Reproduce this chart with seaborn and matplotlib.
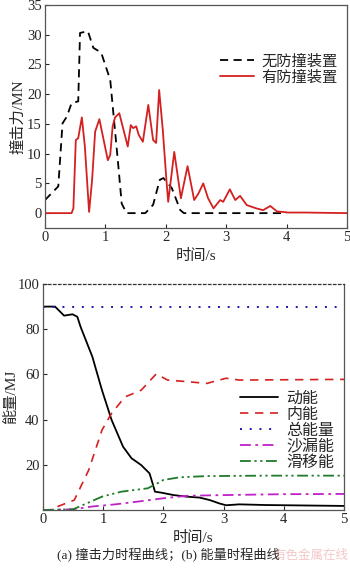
import numpy as np
import pandas as pd
import matplotlib
matplotlib.use('Agg')
import matplotlib.pyplot as plt
import seaborn as sns

# (a) 撞击力时程 - 无防撞装置
t_wu = [0, 0.22, 0.29, 0.36, 0.44, 0.55, 0.58, 0.71, 0.8, 0.93, 1.08, 1.13, 1.21, 1.27,
        1.35, 1.66, 1.79, 1.9, 1.96, 2.1, 2.24, 2.3, 4.0]
f_wu = [2.2, 4.5, 15.1, 16.2, 18.5, 18.8, 30.3, 30.6, 27.8, 27.0, 22.4, 17.0, 8.4, 1.6,
        0, 0, 1.4, 5.6, 5.9, 4.2, 0.5, 0, 0]

# (a) 撞击力时程 - 有防撞装置
t_you = [0, 0.44, 0.47, 0.51, 0.55, 0.61, 0.66, 0.73, 0.78, 0.83, 0.9, 0.965, 1.04, 1.08,
         1.12, 1.16, 1.23, 1.3, 1.37, 1.42, 1.46, 1.51, 1.55, 1.62, 1.71, 1.79, 1.84,
         1.89, 1.95, 2.01, 2.04, 2.14, 2.25, 2.36, 2.47, 2.54, 2.62, 2.7, 2.79, 2.9,
         2.95, 3.06, 3.15, 3.23, 3.34, 3.5, 3.61, 3.73, 3.84, 4.03, 4.3, 5.0]
f_you = [0, 0, 0.8, 12.3, 12.6, 16.1, 11.2, 0.2, 5.6, 13.7, 15.8, 12.6, 8.9, 9.8,
         14.6, 16.1, 16.8, 14.0, 11.2, 14.8, 14.3, 14.6, 13.2, 12.0, 18.2, 12.3, 11.8,
         20.7, 14.0, 5.6, 1.9, 10.3, 2.5, 7.9, 2.2, 3.3, 5.0, 2.5, 0.8, 2.2,
         1.9, 4.0, 2.2, 2.9, 1.35, 0.8, 0.5, 1.2, 0.3, 0.1, 0.1, 0]

# (b) 能量时程
t_dong = [0, 0.2, 0.35, 0.49, 0.57, 0.625, 0.82, 0.98, 1.14, 1.33, 1.47, 1.63, 1.77, 1.82,
          1.86, 1.96, 2.17, 2.39, 2.6, 2.77, 2.93, 3.04, 3.26, 3.7, 5.0]
e_dong = [90, 90, 86, 86.6, 85.5, 81, 67.8, 53, 39.8, 28, 22.9, 19.9, 16.2, 11.8,
          8.1, 7.7, 6.6, 5.9, 5.5, 4.4, 2.9, 2.1, 2.5, 2.2, 1.8]
t_nei = [0.24, 0.52, 0.76, 0.98, 1.14, 1.36, 1.63, 1.88, 2.07, 2.39, 2.72, 3.04, 3.26, 5.0]
e_nei = [1.5, 4.4, 17.7, 35.4, 42.8, 50, 53, 60.2, 57.5, 56.8, 56, 58.3, 57.5, 57.8]
t_zong = [0, 5.0]
e_zong = [90, 90]
t_sha = [0, 0.5, 0.8, 1.2, 1.6, 2.0, 2.4, 3.0, 4.0, 5.0]
e_sha = [0, 0.3, 1.5, 2.5, 3.8, 5.2, 6.3, 6.6, 7.0, 7.1]
t_hua = [0, 0.5, 0.98, 1.3, 1.74, 1.9, 2.0, 2.28, 2.72, 3.7, 5.0]
e_hua = [0, 0.3, 5.9, 8.1, 9.6, 11.8, 13.3, 14.5, 15.0, 15.2, 15.2]

sns.set_style('ticks')
plt.rcParams['font.family'] = ['Liberation Serif', 'Noto Sans CJK SC']
plt.rcParams['xtick.direction'] = 'in'
plt.rcParams['ytick.direction'] = 'in'
plt.rcParams['axes.unicode_minus'] = False

fig = plt.figure(figsize=(3.5, 5.69), dpi=100)
ax1 = fig.add_axes([45/350, 1 - 228/569, 302/350, 223/569])
ax2 = fig.add_axes([43/350, 1 - 510/569, 301/350, 226/569])

red = '#d42020'
sns.lineplot(x=t_wu, y=f_wu, ax=ax1, color='black', lw=1.3, linestyle=(0, (4.5, 3)),
             label='无防撞装置')
sns.lineplot(x=t_you, y=f_you, ax=ax1, color=red, lw=1.3, label='有防撞装置')
ax1.set_xlim(0, 5)
ax1.set_ylim(-2.5, 35)
ax1.set_xticks(range(0, 6))
ax1.set_yticks(range(0, 36, 5))
ax1.set_xlabel('时间/s', fontsize=11, labelpad=3)
ax1.set_ylabel('撞击力/MN', fontsize=11, labelpad=1)
ax1.legend(loc='upper right', bbox_to_anchor=(1.0, 0.82), frameon=False, fontsize=11,
           handlelength=2.2, handletextpad=0.5, labelspacing=0.12, borderaxespad=0.2)

sns.lineplot(x=t_dong, y=e_dong, ax=ax2, color='black', lw=1.3, label='动能')
sns.lineplot(x=t_nei, y=e_nei, ax=ax2, color=red, lw=1.2, linestyle=(0, (5, 4)), label='内能')
sns.lineplot(x=t_zong, y=e_zong, ax=ax2, color='#1a1aa8', lw=1.4, linestyle=(0, (1, 4)),
             label='总能量')
sns.lineplot(x=t_sha, y=e_sha, ax=ax2, color='#c020c8', lw=1.3, linestyle=(0, (6, 2.5, 1.5, 2.5)),
             label='沙漏能')
sns.lineplot(x=t_hua, y=e_hua, ax=ax2, color='#1f7a2a', lw=1.3,
             linestyle=(0, (6, 2, 1.2, 2, 1.2, 2)), label='滑移能')
ax2.set_xlim(0, 5)
ax2.set_ylim(0, 100)
ax2.set_xticks(range(0, 6))
ax2.set_yticks([20, 40, 60, 80, 100])
ax2.set_xlabel('时间/s', fontsize=11, labelpad=3)
ax2.set_ylabel('能量/MJ', fontsize=11, labelpad=0)
ax2.legend(loc='lower right', bbox_to_anchor=(1.0, 0.13), frameon=False, fontsize=11.5,
           handlelength=2.4, handletextpad=0.5, labelspacing=0.0, borderaxespad=0.2)

for ax in (ax1, ax2):
    ax.tick_params(labelsize=10.5, length=3, width=0.8, pad=2.5, top=False, right=False)
    for s in ax.spines.values():
        s.set_visible(True)
        s.set_color('#555555')
        s.set_linewidth(0.9)
ax2.spines['top'].set_linestyle((0, (2, 2)))
ax2.spines['top'].set_color('#333333')

fig.text(0.48, 1 - 555/569, '(a) 撞击力时程曲线；(b) 能量时程曲线', ha='center', va='center',
         fontsize=9.5)
fig.text(0.995, 1 - 556/569, '有色金属在线', ha='right', va='center', fontsize=9,
         color='#e06060', alpha=0.35)

fig.savefig('out.png', dpi=100)
